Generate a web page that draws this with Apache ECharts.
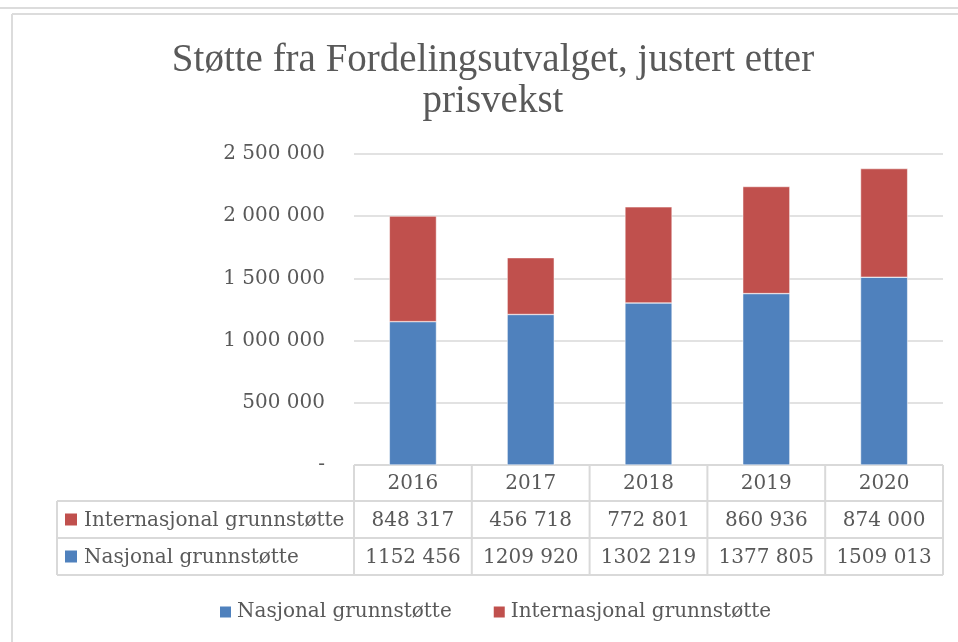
<!DOCTYPE html>
<html>
<head>
    <meta charset="utf-8">
    <style>
        html, body { margin: 0; padding: 0; background: #fff; }
        #main { width: 958px; height: 642px; }
    </style>
    <script src="https://cdn.jsdelivr.net/npm/echarts@6/dist/echarts.min.js"></script>
</head>
<body>
    <div id="main"></div>
    <script type="text/javascript">
        var years = ['2016', '2017', '2018', '2019', '2020'];
        var seriesNames = ['Nasjonal grunnstøtte', 'Internasjonal grunnstøtte'];
        var nasjonal = [1152456, 1209920, 1302219, 1377805, 1509013];
        var internasjonal = [848317, 456718, 772801, 860936, 874000];
        var yTicks = [0, 500000, 1000000, 1500000, 2000000, 2500000];

        var BLUE = '#4F81BD', RED = '#C0504D', TXT = '#595959', LINE = '#D9D9D9';
        var FONT = 'DejaVu Serif';
        var TITLE_FONT = 'Liberation Serif';
        var FS = 20;

        // tall med mellomrom som tusenskille
        function fmt(v) {
            if (v === 0) return '-';
            return String(v).replace(/\B(?=(\d{3})+(?!\d))/g, ' ');
        }
        // tabellen bruker ikke skille for millioner (som i Excel-utdraget)
        function fmtTable(v) {
            var s = String(v);
            return s.slice(0, s.length - 3) + ' ' + s.slice(s.length - 3);
        }

        var gridLeft = 354, gridRight = 15, gridTop = 154, gridBottom = 177;
        var rows = [465, 501, 538, 575];

        var myChart = echarts.init(document.getElementById('main'));
        var option = {
            backgroundColor: '#fff',
            animation: false,
            title: {
                text: 'Støtte fra Fordelingsutvalget, justert etter\nprisvekst',
                left: 488,
                textAlign: 'center',
                top: 35,
                textStyle: {
                    fontFamily: TITLE_FONT,
                    fontWeight: 'normal',
                    fontSize: 39,
                    lineHeight: 41,
                    color: TXT
                }
            },
            legend: {
                data: seriesNames,
                left: 213,
                top: 597,
                itemWidth: 13,
                itemHeight: 13,
                itemGap: 40,
                icon: 'rect',
                textStyle: { fontFamily: FONT, fontSize: FS, color: TXT }
            },
            grid: { left: gridLeft, right: gridRight, top: gridTop, bottom: gridBottom },
            xAxis: {
                type: 'category',
                data: years,
                axisLine: { show: false },
                axisTick: { show: false },
                axisLabel: { show: false }
            },
            yAxis: {
                type: 'value',
                min: yTicks[0],
                max: yTicks[yTicks.length - 1],
                interval: 500000,
                axisLine: { show: false },
                axisTick: { show: false },
                axisLabel: {
                    formatter: fmt,
                    margin: 29,
                    fontFamily: FONT,
                    fontSize: FS,
                    color: TXT
                },
                splitLine: { lineStyle: { color: LINE, width: 1.5 } }
            },
            series: [{
                name: seriesNames[0],
                type: 'bar',
                stack: 'total',
                data: nasjonal,
                barWidth: '40%',
                itemStyle: { color: BLUE, borderColor: '#fff', borderWidth: 0.5 }
            }, {
                name: seriesNames[1],
                type: 'bar',
                stack: 'total',
                data: internasjonal,
                barWidth: '40%',
                itemStyle: { color: RED, borderColor: '#fff', borderWidth: 0.5 }
            }]
        };
        myChart.setOption(option);

        // datatabellen under diagrammet
        var g = [];
        var tableLeft = 57;
        var colW = (958 - gridRight - gridLeft) / years.length;
        var lineStyle = { stroke: LINE, lineWidth: 2 };
        var textStyle = { fontFamily: FONT, fontSize: FS, fill: TXT, align: 'center', verticalAlign: 'middle' };

        // ramme rundt hele figuren
        g.push({ type: 'line', shape: { x1: 0, y1: 8, x2: 958, y2: 8 }, style: { stroke: '#DCDCDC', lineWidth: 2 } });
        g.push({ type: 'line', shape: { x1: 12, y1: 14, x2: 958, y2: 14 }, style: { stroke: '#DCDCDC', lineWidth: 2 } });
        g.push({ type: 'line', shape: { x1: 12, y1: 14, x2: 12, y2: 642 }, style: { stroke: '#DCDCDC', lineWidth: 2 } });

        // horisontale linjer
        g.push({ type: 'line', shape: { x1: gridLeft, y1: rows[0], x2: 958 - gridRight, y2: rows[0] }, style: lineStyle });
        for (var r = 1; r < rows.length; r++) {
            g.push({ type: 'line', shape: { x1: tableLeft, y1: rows[r], x2: 958 - gridRight, y2: rows[r] }, style: lineStyle });
        }
        // vertikale linjer
        g.push({ type: 'line', shape: { x1: tableLeft, y1: rows[1], x2: tableLeft, y2: rows[3] }, style: lineStyle });
        for (var c = 0; c <= years.length; c++) {
            var x = gridLeft + c * colW;
            g.push({ type: 'line', shape: { x1: x, y1: rows[0], x2: x, y2: rows[3] }, style: lineStyle });
        }
        // celler
        var tableRows = [
            { name: seriesNames[1], color: RED, values: internasjonal },
            { name: seriesNames[0], color: BLUE, values: nasjonal }
        ];
        years.forEach(function (y, i) {
            var cx = myChart.convertToPixel({ xAxisIndex: 0 }, i);
            g.push({ type: 'text', x: cx, y: (rows[0] + rows[1]) / 2 + 1, style: Object.assign({ text: y }, textStyle) });
            tableRows.forEach(function (tr, k) {
                g.push({ type: 'text', x: cx, y: (rows[k + 1] + rows[k + 2]) / 2 + 1,
                    style: Object.assign({ text: fmtTable(tr.values[i]) }, textStyle) });
            });
        });
        tableRows.forEach(function (tr, k) {
            var cy = (rows[k + 1] + rows[k + 2]) / 2;
            g.push({ type: 'rect', shape: { x: 65, y: cy - 6, width: 12, height: 12 }, style: { fill: tr.color } });
            g.push({ type: 'text', x: 84, y: cy + 1,
                style: { text: tr.name, fontFamily: FONT, fontSize: FS, fill: TXT, align: 'left', verticalAlign: 'middle' } });
        });

        myChart.setOption({ graphic: { elements: g } });
    </script>
</body>
</html>
